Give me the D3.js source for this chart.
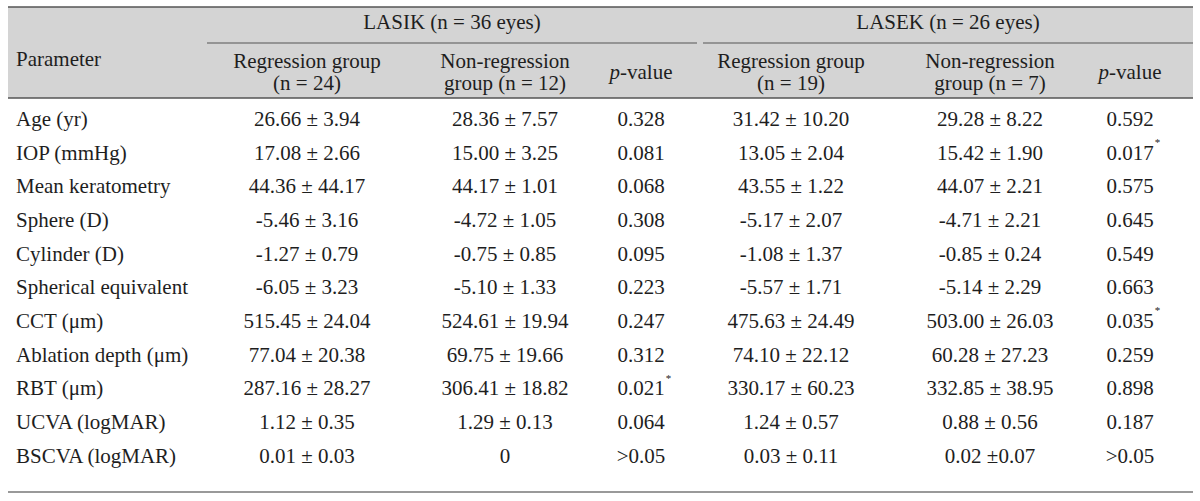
<!DOCTYPE html>
<html>
<head>
<meta charset="utf-8">
<script src="https://cdn.jsdelivr.net/npm/d3@7"></script>
<style>
  body { margin: 0; background: #fff; }
  svg text { font-family: "Liberation Serif", "Times New Roman", serif; fill: #1e1e1e; }
</style>
</head>
<body>
<div id="chart"></div>
<script>
// table content
const parameters = ["Age (yr)", "IOP (mmHg)", "Mean keratometry", "Sphere (D)", "Cylinder (D)",
  "Spherical equivalent", "CCT (\u03bcm)", "Ablation depth (\u03bcm)", "RBT (\u03bcm)",
  "UCVA (logMAR)", "BSCVA (logMAR)"];
const lasikReg = ["26.66 \u00b1 3.94", "17.08 \u00b1 2.66", "44.36 \u00b1 44.17", "-5.46 \u00b1 3.16",
  "-1.27 \u00b1 0.79", "-6.05 \u00b1 3.23", "515.45 \u00b1 24.04", "77.04 \u00b1 20.38",
  "287.16 \u00b1 28.27", "1.12 \u00b1 0.35", "0.01 \u00b1 0.03"];
const lasikNonReg = ["28.36 \u00b1 7.57", "15.00 \u00b1 3.25", "44.17 \u00b1 1.01", "-4.72 \u00b1 1.05",
  "-0.75 \u00b1 0.85", "-5.10 \u00b1 1.33", "524.61 \u00b1 19.94", "69.75 \u00b1 19.66",
  "306.41 \u00b1 18.82", "1.29 \u00b1 0.13", "0"];
const lasikP = ["0.328", "0.081", "0.068", "0.308", "0.095", "0.223", "0.247", "0.312", "0.021*", "0.064", ">0.05"];
const lasekReg = ["31.42 \u00b1 10.20", "13.05 \u00b1 2.04", "43.55 \u00b1 1.22", "-5.17 \u00b1 2.07",
  "-1.08 \u00b1 1.37", "-5.57 \u00b1 1.71", "475.63 \u00b1 24.49", "74.10 \u00b1 22.12",
  "330.17 \u00b1 60.23", "1.24 \u00b1 0.57", "0.03 \u00b1 0.11"];
const lasekNonReg = ["29.28 \u00b1 8.22", "15.42 \u00b1 1.90", "44.07 \u00b1 2.21", "-4.71 \u00b1 2.21",
  "-0.85 \u00b1 0.24", "-5.14 \u00b1 2.29", "503.00 \u00b1 26.03", "60.28 \u00b1 27.23",
  "332.85 \u00b1 38.95", "0.88 \u00b1 0.56", "0.02 \u00b10.07"];
const lasekP = ["0.592", "0.017*", "0.575", "0.645", "0.549", "0.663", "0.035*", "0.259", "0.898", "0.187", ">0.05"];

const groupHeaders = ["LASIK (n = 36 eyes)", "LASEK (n = 26 eyes)"];
const subHeaders = [
  ["Regression group", "(n = 24)"], ["Non-regression", "group (n = 12)"], null,
  ["Regression group", "(n = 19)"], ["Non-regression", "group (n = 7)"], null
];

const width = 1200, height = 501;
const left = 8, right = 1193;
const fontSize = 21;

const svg = d3.select("#chart").append("svg")
  .attr("width", width)
  .attr("height", height);

// column centres
const colX = [307, 505, 641, 791, 990, 1130];
const columns = [lasikReg, lasikNonReg, lasikP, lasekReg, lasekNonReg, lasekP];

// row positions
const y = d3.scalePoint()
  .domain(parameters)
  .range([121, 458]);

// header background
svg.append("rect")
  .attr("x", left).attr("y", 7)
  .attr("width", right - left).attr("height", 91)
  .attr("fill", "#d4d4d4");

// rules
const rule = (x1, x2, yy, w, c) => svg.append("line")
  .attr("x1", x1).attr("x2", x2).attr("y1", yy).attr("y2", yy)
  .attr("stroke", c).attr("stroke-width", w);
rule(left, right, 7, 1.6, "#555");
rule(left, right, 98, 1.6, "#555");
rule(left, right, 492, 1.6, "#777");
rule(207, 697, 43, 1.2, "#555");
rule(703, right, 43, 1.2, "#555");

// header text
svg.append("text")
  .attr("x", 16).attr("y", 61)
  .attr("dominant-baseline", "middle")
  .attr("font-size", fontSize)
  .text("Parameter");

svg.selectAll("text.group")
  .data(groupHeaders)
  .join("text")
  .attr("class", "group")
  .attr("x", (d, i) => i === 0 ? 452 : 948)
  .attr("y", 24)
  .attr("text-anchor", "middle")
  .attr("dominant-baseline", "middle")
  .attr("font-size", fontSize)
  .text(d => d);

subHeaders.forEach((h, i) => {
  if (h) {
    h.forEach((line, j) => {
      svg.append("text")
        .attr("x", colX[i]).attr("y", 63 + j * 22)
        .attr("text-anchor", "middle")
        .attr("dominant-baseline", "middle")
        .attr("font-size", fontSize)
        .text(line);
    });
  } else {
    const t = svg.append("text")
      .attr("x", colX[i]).attr("y", 74)
      .attr("text-anchor", "middle")
      .attr("dominant-baseline", "middle")
      .attr("font-size", fontSize);
    t.append("tspan").attr("font-style", "italic").text("p");
    t.append("tspan").text("-value");
  }
});

// parameter names
svg.selectAll("text.param")
  .data(parameters)
  .join("text")
  .attr("class", "param")
  .attr("x", 16)
  .attr("y", d => y(d))
  .attr("dominant-baseline", "middle")
  .attr("font-size", fontSize)
  .text(d => d);

// value cells
columns.forEach((col, ci) => {
  col.forEach((v, ri) => {
    const star = v.endsWith("*");
    const txt = star ? v.slice(0, -1) : v;
    const t = svg.append("text")
      .attr("x", colX[ci])
      .attr("y", y(parameters[ri]))
      .attr("text-anchor", "middle")
      .attr("dominant-baseline", "middle")
      .attr("font-size", fontSize)
      .text(txt);
    if (star) {
      const bb = t.node().getBBox();
      svg.append("text")
        .attr("x", bb.x + bb.width + 1)
        .attr("y", y(parameters[ri]) - 9)
        .attr("font-size", 11)
        .text("*");
    }
  });
});
</script>
</body>
</html>
